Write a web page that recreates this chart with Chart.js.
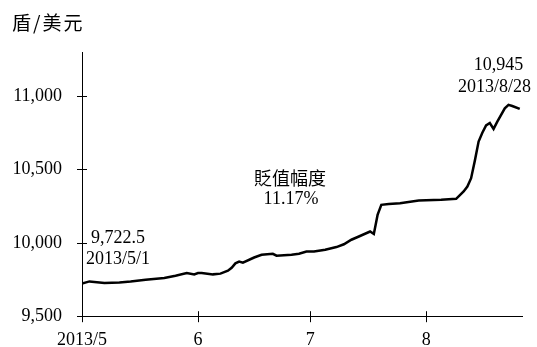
<!DOCTYPE html>
<html>
<head>
<meta charset="utf-8">
<script src="https://cdn.jsdelivr.net/npm/chart.js@4.4.1/dist/chart.umd.min.js"></script>
<style>
  html, body { margin: 0; padding: 0; background: #fff; }
  #wrap { width: 537px; height: 347px; position: relative; }
</style>
</head>
<body>
<div id="wrap"><canvas id="c" width="537" height="347"></canvas></div>
<script>
// Days since 2013/5/1
const days = [0,2,6,10,13,17,22,25,28,30,31,32,35,37,39,40,41,42,43,46,48,51,52,56,58,60,62,65,68,70,72,74,77,78,79,80,82,85,90,96,100,102,103,104,105,106,107,108,109,110,111,113,114,115,117];
// VND per USD
const rates = [9722.5,9737,9726,9730,9737,9749,9760,9776,9794,9785,9794,9795,9785,9790,9810,9830,9860,9872,9865,9900,9918,9925,9912,9918,9925,9940,9941,9953,9971,9990,10021,10043,10077,10060,10190,10259,10264,10270,10288,10293,10300,10350,10383,10440,10560,10690,10750,10800,10816,10776,10826,10916,10940,10932,10912];
const xTickDays = [0, 31, 61, 92];
const xTickLabels = ['2013/5', '6', '7', '8'];
const yTickValues = [9500, 10000, 10500, 11000];
const unitLabel = '盾/美元';
const startLabel = ['9,722.5', '2013/5/1'];
const peakLabel = ['10,945', '2013/8/28'];
const midLabel = ['貶值幅度', '11.17%'];

const serif = '"Liberation Serif", "Times New Roman", serif';
const cjk = '"Noto Sans CJK TC", "Noto Sans CJK SC", sans-serif';

const overlay = {
  id: 'overlay',
  afterDraw(chart) {
    const ctx = chart.ctx;
    const xs = chart.scales.x, ys = chart.scales.y;
    ctx.save();
    ctx.strokeStyle = '#000';
    ctx.lineWidth = 1;
    // cross ticks
    const yAxisX = xs.left;
    yTickValues.forEach(v => {
      const py = Math.round(ys.getPixelForValue(v)) + 0.5;
      ctx.beginPath(); ctx.moveTo(yAxisX - 5, py); ctx.lineTo(yAxisX + 5, py); ctx.stroke();
    });
    const xAxisY = ys.bottom;
    xTickDays.forEach(d => {
      const px = Math.round(xs.getPixelForValue(d)) + 0.5;
      ctx.beginPath(); ctx.moveTo(px, xAxisY - 5); ctx.lineTo(px, xAxisY + 6); ctx.stroke();
    });
    // unit label
    ctx.fillStyle = '#000';
    ctx.textBaseline = 'middle';
    ctx.textAlign = 'left';
    ctx.font = '19px ' + cjk;
    if ('letterSpacing' in ctx) ctx.letterSpacing = '2px';
    ctx.fillText(unitLabel, 12, 23);
    if ('letterSpacing' in ctx) ctx.letterSpacing = '0px';
    // annotations
    ctx.textAlign = 'center';
    ctx.font = '18px ' + serif;
    const p0x = xs.getPixelForValue(days[0]);
    const p0y = ys.getPixelForValue(rates[0]);
    ctx.fillText(startLabel[0], p0x + 36, p0y - 45);
    ctx.fillText(startLabel[1], p0x + 36, p0y - 24);
    const ip = rates.indexOf(Math.max(...rates));
    const pkx = xs.getPixelForValue(days[ip]);
    const pky = ys.getPixelForValue(rates[ip]);
    ctx.fillText(peakLabel[0], pkx - 10, pky - 40);
    ctx.fillText(peakLabel[1], pkx - 14, pky - 18);
    ctx.font = '18px ' + cjk;
    const mx = xs.getPixelForValue(55.6);
    ctx.fillText(midLabel[0], mx, ys.getPixelForValue(10442));
    ctx.font = '18px ' + serif;
    ctx.fillText(midLabel[1], mx + 1, ys.getPixelForValue(10300));
    ctx.restore();
  }
};

new Chart(document.getElementById('c'), {
  type: 'line',
  data: {
    datasets: [{
      data: days.map((d, i) => ({ x: d, y: rates[i] })),
      borderColor: '#000',
      borderWidth: 2.5,
      pointRadius: 0,
      tension: 0,
      fill: false
    }]
  },
  options: {
    responsive: false,
    animation: false,
    devicePixelRatio: 1,
    layout: { padding: { top: 52, right: 15, bottom: 0, left: 0 } },
    plugins: { legend: { display: false }, tooltip: { enabled: false }, title: { display: false } },
    scales: {
      x: {
        type: 'linear',
        min: 0,
        max: 117.6,
        afterBuildTicks(scale) { scale.ticks = xTickDays.map(v => ({ value: v })); },
        afterFit(scale) { scale.height = 30; },
        grid: { display: true, drawOnChartArea: false, drawTicks: false },
        border: { display: true, color: '#000', width: 1 },
        ticks: {
          padding: 13,
          color: '#000',
          font: { family: serif, size: 18 },
          maxRotation: 0,
          autoSkip: false,
          callback(v) { const i = xTickDays.indexOf(v); return i >= 0 ? xTickLabels[i] : ''; }
        }
      },
      y: {
        type: 'linear',
        min: 9500,
        max: 11300,
        afterBuildTicks(scale) { scale.ticks = yTickValues.map(v => ({ value: v })); },
        afterFit(scale) { scale.width = 82; },
        grid: { display: true, drawOnChartArea: false, drawTicks: false },
        border: { display: true, color: '#000', width: 1 },
        ticks: {
          padding: 20,
          color: '#000',
          font: { family: serif, size: 18 },
          callback(v) { return v.toLocaleString('en-US'); }
        }
      }
    }
  },
  plugins: [overlay]
});
</script>
</body>
</html>
